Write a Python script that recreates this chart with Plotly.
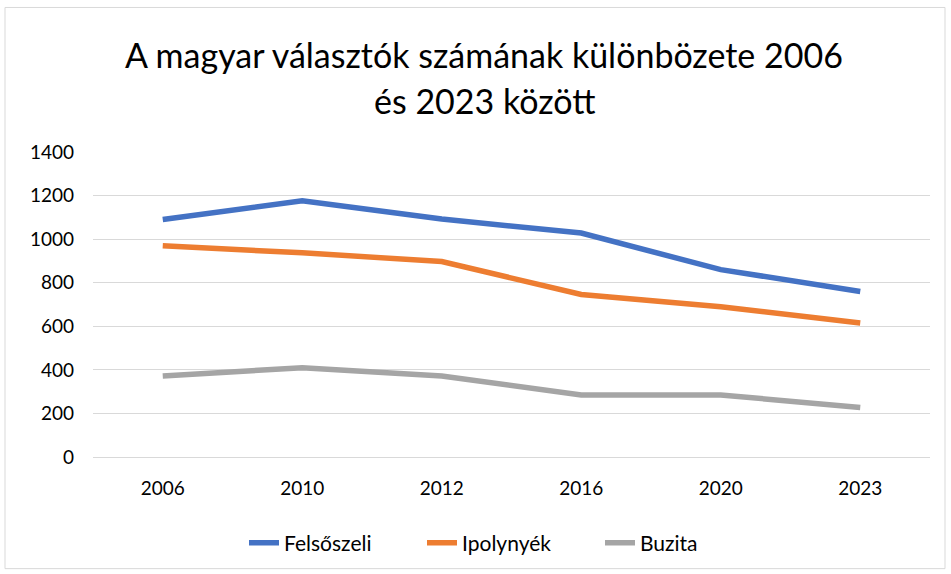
import plotly.graph_objects as go

years = ["2006", "2010", "2012", "2016", "2020", "2023"]
felsoszeli = [1090, 1176, 1092, 1028, 860, 760]
ipolynyek = [970, 937, 897, 746, 690, 615]
buzita = [372, 410, 372, 285, 285, 227]
series_names = ["Felsőszeli", "Ipolynyék", "Buzita"]
colors = ["#4472C4", "#ED7D31", "#A5A5A5"]
title_lines = ["A magyar választók számának különbözete 2006", "és 2023 között"]

FONT = "Lato, Open Sans, sans-serif"

fig = go.Figure()
for name, vals, c in zip(series_names, [felsoszeli, ipolynyek, buzita], colors):
    fig.add_trace(go.Scatter(x=years, y=vals, name=name, mode="lines",
                             line=dict(color=c, width=5.5)))

W, H = 951, 574
ml, mr, mt, mb = 93, 21, 152, 116
pw, ph = W - ml - mr, H - mt - mb

def py(pix):
    return (H - mb - pix) / ph

def px(pix):
    return (pix - ml) / pw

annotations = [
    dict(text=title_lines[0], xref="paper", yref="paper", x=px(484), y=py(54),
         xanchor="center", yanchor="middle", showarrow=False,
         font=dict(family=FONT, size=34, color="#000000")),
    dict(text=title_lines[1], xref="paper", yref="paper", x=px(484), y=py(100),
         xanchor="center", yanchor="middle", showarrow=False,
         font=dict(family=FONT, size=34, color="#000000")),
]

fig.update_layout(
    width=W, height=H,
    margin=dict(l=ml, r=mr, t=mt, b=mb),
    paper_bgcolor="white", plot_bgcolor="white",
    font=dict(family=FONT, color="#000000", size=18),
    annotations=annotations,
    showlegend=True,
    legend=dict(orientation="h", x=px(244), xanchor="left", y=py(543), yanchor="middle",
                font=dict(family=FONT, size=21, color="#000000"),
                entrywidth=133, entrywidthmode="pixels",
                traceorder="normal"),
    xaxis=dict(type="category", range=[-0.5, 5.5], showgrid=False, showline=False, ticks="",
               tickfont=dict(family=FONT, size=19, color="#000000"), ticklabelstandoff=18),
    yaxis=dict(range=[0, 1400], dtick=200, showgrid=True, gridcolor="#D9D9D9", gridwidth=1,
               zeroline=True, zerolinecolor="#D9D9D9", zerolinewidth=1, showline=False, ticks="",
               tickfont=dict(family=FONT, size=19, color="#000000"), ticklabelstandoff=18),
    shapes=[dict(type="rect", xref="paper", yref="paper",
                 x0=px(5), x1=px(945), y0=py(570), y1=py(7),
                 line=dict(color="#D9D9D9", width=1), fillcolor="rgba(0,0,0,0)", layer="below")],
)

fig.write_html("out.html", config={"displayModeBar": False},
               post_script="document.body.style.margin='0';")
